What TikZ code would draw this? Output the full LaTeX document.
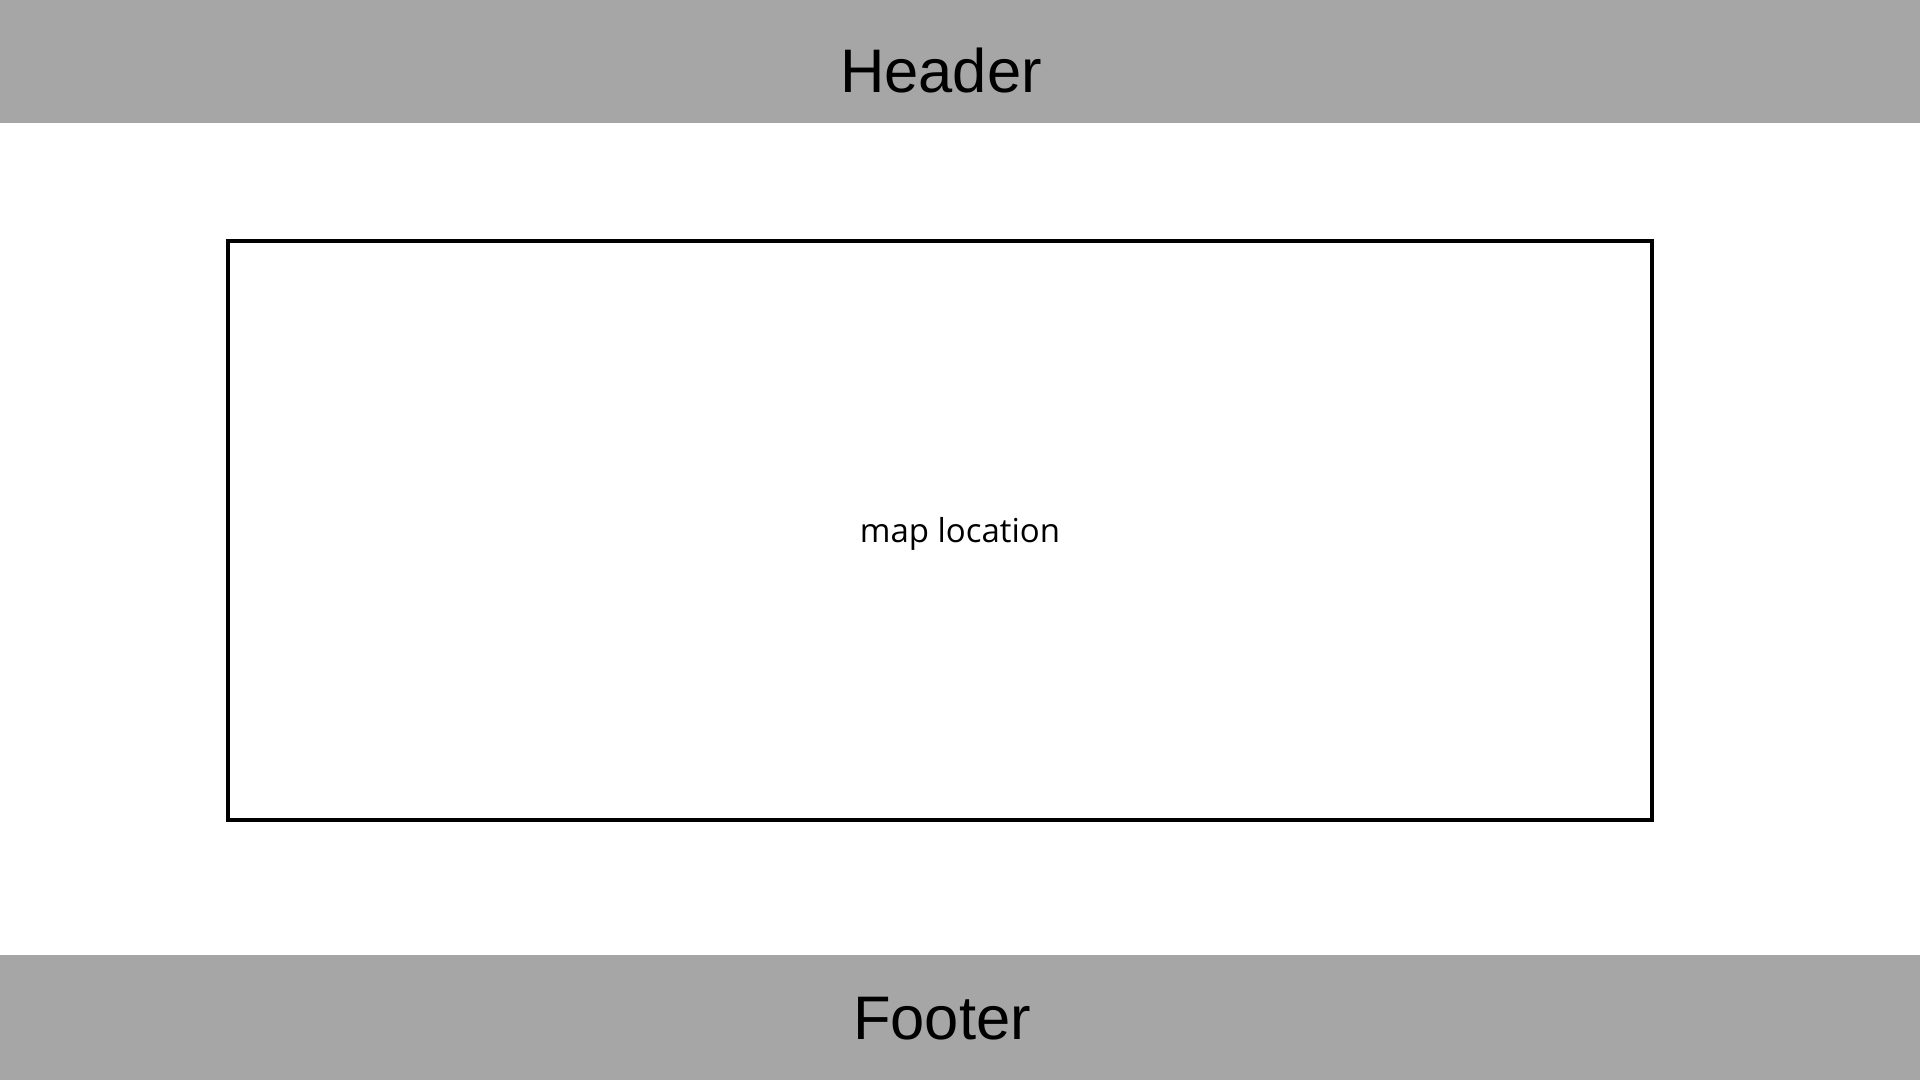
\documentclass[tikz,border=0pt]{standalone}
\usepackage{fontspec}
\setmainfont{Liberation Sans}
\newfontfamily\mapfont{Open Sans}
\usetikzlibrary{calc}
\definecolor{bandgray}{RGB}{166,166,166}

\begin{document}
\begin{tikzpicture}[x = 1pt, y = -1pt]
            \useasboundingbox (0, 0) rectangle (1920, 1080);
            \fill[white](0, 0) rectangle (1920, 1080);
            
            \fill[bandgray](0, 0) rectangle (1920, 123);
            \node[anchor = base, inner sep = 0pt, font = \fontsize{61.5}{70}\selectfont] (header) at (941, 92) {Header};
            
            \fill[bandgray](0, 955) rectangle (1920, 1080);
            \node[anchor = base, inner sep = 0pt, font = \fontsize{61.5}{70}\selectfont] (footer) at (942, 1039) {Footer};
            
            \draw[black, line width = 3.5pt](228, 241) rectangle (1652, 820);
            \node[anchor = base, inner sep = 0pt, font = \mapfont\fontsize{33}{38}\selectfont] (map) at (960, 542) {map location};
        \end{tikzpicture}
\end{document}
